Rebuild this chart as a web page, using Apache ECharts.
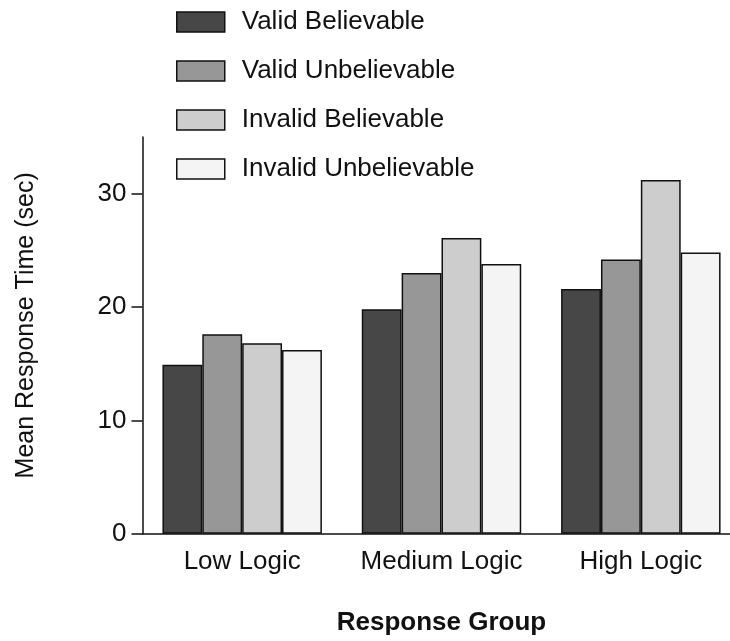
<!DOCTYPE html>
<html>
<head>
<meta charset="utf-8">
<script src="https://cdn.jsdelivr.net/npm/echarts@6/dist/echarts.min.js"></script>
<style>
html,body{margin:0;padding:0;background:#fff;}
#chart{width:730px;height:641px;}
</style>
</head>
<body>
<div id="chart"></div>
<script>
const categories = ['Low Logic', 'Medium Logic', 'High Logic'];
const seriesNames = ['Valid Believable', 'Valid Unbelievable', 'Invalid Believable', 'Invalid Unbelievable'];
const validBelievable = [14.9, 19.8, 21.6];
const validUnbelievable = [17.6, 23.0, 24.2];
const invalidBelievable = [16.8, 26.1, 31.2];
const invalidUnbelievable = [16.2, 23.8, 24.8];
const yTicks = [0, 10, 20, 30];
const colors = ['#474747', '#979797', '#cdcdcd', '#f4f4f4'];

const values = [validBelievable, validUnbelievable, invalidBelievable, invalidUnbelievable];
const FONT = '"Liberation Sans", Arial, Helvetica, sans-serif';
const TXT = '#111111';

const chart = echarts.init(document.getElementById('chart'), null, {renderer: 'canvas'});
chart.setOption({
  backgroundColor: '#ffffff',
  animation: false,
  textStyle: {fontFamily: FONT, color: TXT},
  legend: {
    orient: 'vertical',
    left: 171,
    top: 4,
    itemWidth: 48,
    itemHeight: 20,
    itemGap: 23,
    icon: 'rect',
    selectedMode: false,
    data: seriesNames,
    textStyle: {fontFamily: FONT, fontSize: 26, lineHeight: 26, color: TXT, padding: [0, 0, 0, 12]},
    itemStyle: {borderColor: '#111111', borderWidth: 1.5}
  },
  grid: {left: 142.5, width: 598, top: 137, bottom: 107.3, containLabel: false, outerBoundsMode: 'none'},
  xAxis: {
    type: 'category',
    data: categories,
    name: 'Response Group',
    nameLocation: 'middle',
    nameGap: 76,
    nameTextStyle: {fontFamily: FONT, fontSize: 26, fontWeight: 'bold', color: TXT},
    axisLine: {lineStyle: {color: '#111111', width: 1.5}},
    axisTick: {alignWithLabel: true, length: 11, lineStyle: {color: '#111111', width: 1.5}},
    axisLabel: {fontFamily: FONT, fontSize: 26, color: TXT, margin: 15, interval: 0, hideOverlap: false}
  },
  yAxis: {
    type: 'value',
    min: 0,
    max: 35,
    name: 'Mean Response Time (sec)',
    nameLocation: 'middle',
    nameGap: 104,
    nameRotate: 90,
    nameTextStyle: {fontFamily: FONT, fontSize: 25, color: TXT, padding: [0, 0, 0, 20]},
    axisLine: {show: true, lineStyle: {color: '#111111', width: 1.5}},
    axisTick: {show: true, length: 11, customValues: yTicks, lineStyle: {color: '#111111', width: 1.5}},
    axisLabel: {fontFamily: FONT, fontSize: 26, color: TXT, margin: 16, customValues: yTicks},
    splitLine: {show: false}
  },
  series: seriesNames.map((n, i) => ({
    name: n,
    type: 'bar',
    data: values[i],
    barGap: '0%',
    barCategoryGap: '20%',
    itemStyle: {color: colors[i], borderColor: '#111111', borderWidth: 1.5}
  }))
});
</script>
</body>
</html>
